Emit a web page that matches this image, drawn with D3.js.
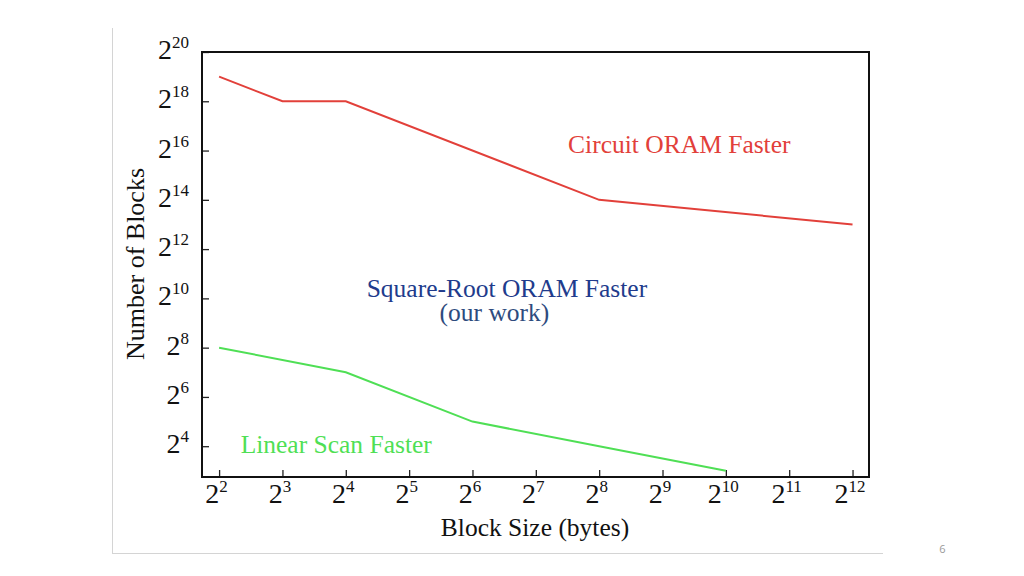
<!DOCTYPE html>
<html>
<head>
<meta charset="utf-8">
<script src="https://cdn.jsdelivr.net/npm/d3@7"></script>
<style>
  html, body { margin: 0; padding: 0; background: #fff; }
  svg { display: block; }
</style>
</head>
<body>
<svg id="chart" width="1024" height="576"></svg>
<script>
// ---- data (exponents of 2) ----
const xTickExps = [2, 3, 4, 5, 6, 7, 8, 9, 10, 11, 12];
const yTickExps = [4, 6, 8, 10, 12, 14, 16, 18, 20];
// Circuit ORAM boundary: [blockSizeExp, numBlocksExp]
const circuitBoundary = [[2, 19], [3, 18], [4, 18], [8, 14], [12, 13]];
// Linear scan boundary
const linearBoundary = [[2, 8], [4, 7], [6, 5], [8, 4], [10, 3]];
const xTitle = "Block Size (bytes)";
const yTitle = "Number of Blocks";
const regionLabels = [
  { text: "Circuit ORAM Faster", x: 2 ** 7.51, y: 2 ** 15.92, color: "#e2403a" },
  { text: "Square-Root ORAM Faster", x: 2 ** 4.33, y: 2 ** 10.05, color: "#213b8c" },
  { text: "(our work)", x: 2 ** 5.48, y: 2 ** 9.1, color: "#2e4b7e" },
  { text: "Linear Scan Faster", x: 2 ** 2.34, y: 2 ** 3.72, color: "#4fdf55" }
];

const svg = d3.select("#chart");
const serif = "'Liberation Serif', 'DejaVu Serif', serif";

const L = 202, R = 869, T = 52, B = 477;
const x = d3.scaleLog().base(2).domain([2 ** 1.73, 2 ** 12.26]).range([L, R]);
const y = d3.scaleLog().base(2).domain([2 ** 2.75, 2 ** 20]).range([B, T]);

// slide frame lines
svg.append("line").attr("x1", 112.5).attr("x2", 112.5).attr("y1", 28).attr("y2", 554)
  .attr("stroke", "#d4d4d4").attr("stroke-width", 1);
svg.append("line").attr("x1", 112).attr("x2", 883).attr("y1", 553.5).attr("y2", 553.5)
  .attr("stroke", "#d4d4d4").attr("stroke-width", 1);
svg.append("text").attr("x", 942.5).attr("y", 553).attr("text-anchor", "middle")
  .attr("font-family", "'Open Sans', 'Noto Sans', sans-serif").attr("font-size", 11)
  .attr("fill", "#9a9a9a").text("6");

// axes with inner ticks
const xAxis = d3.axisBottom(x).tickValues(xTickExps.map(e => 2 ** e)).tickSize(-7).tickFormat("");
const yAxis = d3.axisLeft(y).tickValues(yTickExps.map(e => 2 ** e)).tickSize(-7).tickFormat("");

const gx = svg.append("g").attr("transform", `translate(0,${B})`).call(xAxis);
const gy = svg.append("g").attr("transform", `translate(${L},0)`).call(yAxis);
[gx, gy].forEach(g => {
  g.select(".domain").remove();
  g.selectAll(".tick line").attr("stroke", "#222").attr("stroke-width", 1.3);
});

// frame
svg.append("rect").attr("x", L).attr("y", T).attr("width", R - L).attr("height", B - T)
  .attr("fill", "none").attr("stroke", "#111").attr("stroke-width", 2);

// x tick labels
xTickExps.forEach(e => {
  const t = svg.append("text")
    .attr("x", x(2 ** e) - 2.5).attr("y", B + 26)
    .attr("text-anchor", "middle")
    .attr("font-family", serif).attr("fill", "#111");
  t.append("tspan").attr("font-size", 28).text("2");
  t.append("tspan").attr("font-size", 17).attr("dy", -11).text(e);
});

// y tick labels
yTickExps.forEach(e => {
  const t = svg.append("text")
    .attr("x", 189).attr("y", y(2 ** e) + 7)
    .attr("text-anchor", "end")
    .attr("font-family", serif).attr("fill", "#111");
  t.append("tspan").attr("font-size", 28).text("2");
  t.append("tspan").attr("font-size", 17).attr("dy", -11).text(e);
});

// axis titles
svg.append("text").attr("x", 535).attr("y", 536).attr("text-anchor", "middle")
  .attr("font-family", serif).attr("font-size", 25.5).attr("fill", "#111").text(xTitle);
svg.append("text").attr("transform", "translate(144,264) rotate(-90)")
  .attr("text-anchor", "middle")
  .attr("font-family", serif).attr("font-size", 26).attr("fill", "#111").text(yTitle);

// boundary lines
const line = d3.line().x(d => x(2 ** d[0])).y(d => y(2 ** d[1]));
svg.append("path").datum(circuitBoundary).attr("d", line)
  .attr("fill", "none").attr("stroke", "#e2403a").attr("stroke-width", 2);
svg.append("path").datum(linearBoundary).attr("d", line)
  .attr("fill", "none").attr("stroke", "#4fdf55").attr("stroke-width", 2);

// region labels
regionLabels.forEach(d => {
  svg.append("text").attr("x", x(d.x)).attr("y", y(d.y))
    .attr("font-family", serif).attr("font-size", 25.5).attr("fill", d.color).text(d.text);
});
</script>
</body>
</html>
